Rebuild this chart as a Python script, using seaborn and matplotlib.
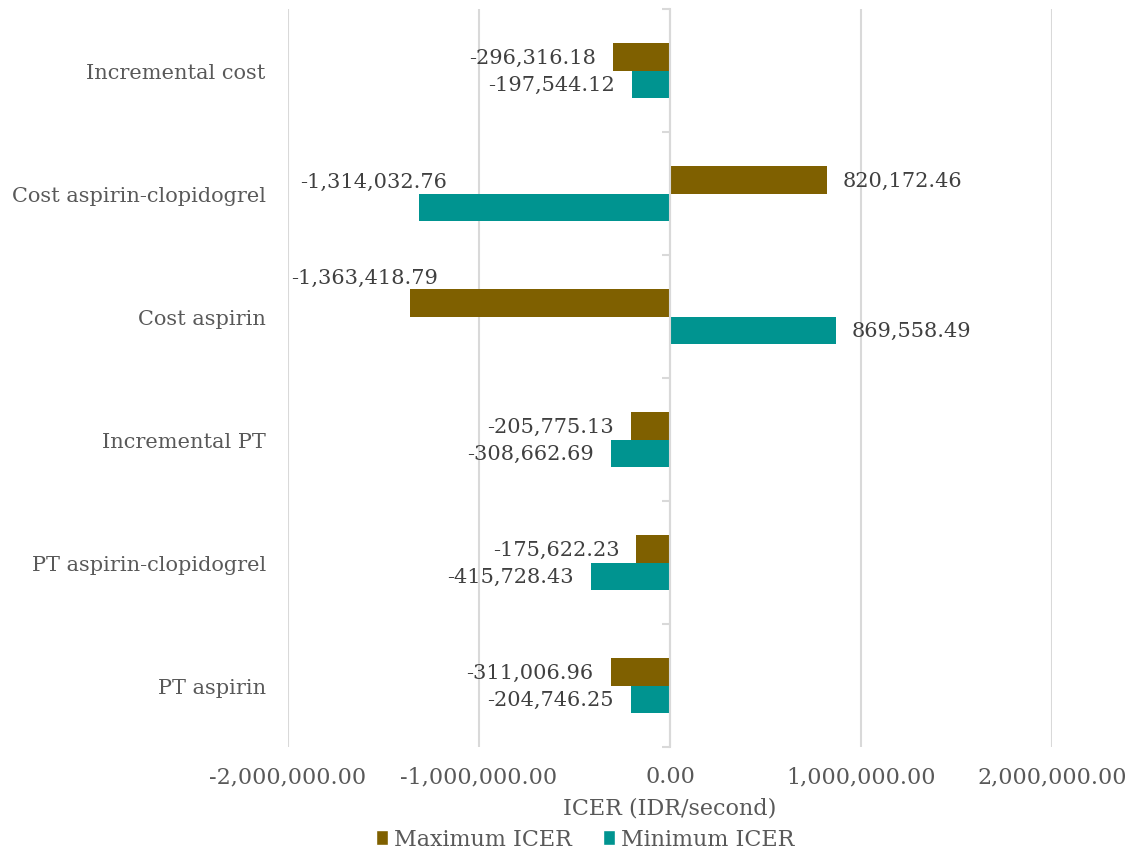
import matplotlib
matplotlib.use("Agg")
import matplotlib.pyplot as plt
import matplotlib.ticker as mticker
from matplotlib.patches import Patch
import seaborn as sns
import pandas as pd

categories = ["Incremental cost", "Cost aspirin-clopidogrel", "Cost aspirin",
              "Incremental PT", "PT aspirin-clopidogrel", "PT aspirin"]
series = ["Maximum ICER", "Minimum ICER"]
max_icer = [-296316.18, 820172.46, -1363418.79, -205775.13, -175622.23, -311006.96]
min_icer = [-197544.12, -1314032.76, 869558.49, -308662.69, -415728.43, -204746.25]
x_ticks = [-2000000, -1000000, 0, 1000000, 2000000]
x_title = "ICER (IDR/second)"

colors = {"Maximum ICER": "#7F6000", "Minimum ICER": "#009490"}

df = pd.DataFrame({
    "category": categories * 2,
    "series": [series[0]] * len(categories) + [series[1]] * len(categories),
    "value": max_icer + min_icer,
})

sns.set_theme(style="white")
plt.rcParams["font.family"] = ["DejaVu Serif"]

fig = plt.figure(figsize=(11.47, 8.54), dpi=100)
ax = fig.add_axes([288 / 1147, 1 - 748 / 854, (1052 - 288) / 1147, (748 - 10) / 854])

sns.barplot(data=df, y="category", x="value", hue="series", order=categories,
            hue_order=series, palette=colors, orient="h", width=0.44,
            linewidth=0, saturation=1, ax=ax, legend=False)

ax.set_xlim(x_ticks[0], x_ticks[-1])
ax.set_ylim(len(categories) - 0.5, -0.5)
ax.set_xticks(x_ticks)
ax.xaxis.set_major_formatter(mticker.FuncFormatter(lambda v, p: f"{v:,.2f}"))
ax.grid(axis="x", color="#D9D9D9", linewidth=1.5)
ax.grid(axis="y", visible=False)
ax.set_axisbelow(True)
for s in ax.spines.values():
    s.set_visible(False)
ax.tick_params(axis="x", length=0, pad=13, labelsize=16, labelcolor="#595959")
ax.tick_params(axis="y", length=0, pad=16, labelsize=15, labelcolor="#595959")
ax.set_ylabel("")
ax.set_xlabel(x_title, fontsize=16, color="#595959", labelpad=7)

# zero axis with boundary tick marks
ax2 = ax.twinx()
ax2.set_ylim(ax.get_ylim())
ax2.spines["right"].set_position(("data", 0))
for k, s in ax2.spines.items():
    s.set_visible(k == "right")
ax2.spines["right"].set_color("#D9D9D9")
ax2.spines["right"].set_linewidth(1.5)
ax2.set_yticks([i + 0.5 for i in range(-1, len(categories))])
ax2.tick_params(axis="y", direction="in", length=6, width=1.5, color="#D9D9D9",
                labelright=False)
ax2.grid(False)

# value labels
px = 0.72
for cont in ax.containers:
    for bar in cont:
        w = bar.get_width()
        val = bar.get_x() + w if w > 0 else min(bar.get_x(), bar.get_x() + w)
        yc = bar.get_y() + bar.get_height() / 2
        txt = f"{val:,.2f}"
        if val >= 0:
            ax.annotate(txt, (val, yc), xytext=(16 * px, 0), textcoords="offset points",
                        ha="left", va="center", fontsize=15, color="#404040")
        elif val < -1e6:
            ax.annotate(txt, (val, yc), xytext=(28 * px, 26 * px), textcoords="offset points",
                        ha="right", va="center", fontsize=15, color="#404040")
        else:
            ax.annotate(txt, (val, yc), xytext=(-17 * px, 0), textcoords="offset points",
                        ha="right", va="center", fontsize=15, color="#404040")

handles = [Patch(facecolor=colors[s], label=s) for s in series]
fig.legend(handles=handles, loc="lower center", bbox_to_anchor=(585 / 1147, -0.02),
           ncol=2, frameon=False, fontsize=16, handlelength=0.55, handleheight=0.7,
           handletextpad=0.25, columnspacing=1.4, labelcolor="#595959")

fig.savefig("out.png", dpi=100)
